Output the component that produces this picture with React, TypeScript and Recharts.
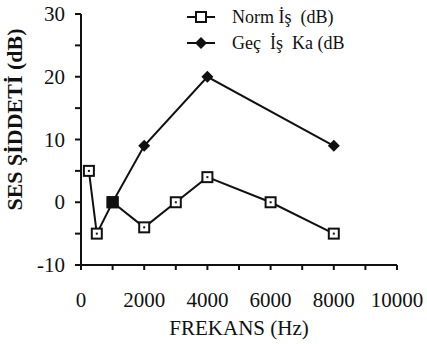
import React from "react";
import { LineChart, Line, XAxis, YAxis, Label } from "recharts";

// Frequencies (Hz) and levels (dB)
const normFreq: number[] = [250, 500, 1000, 2000, 3000, 4000, 6000, 8000];
const normLevel: number[] = [5, -5, 0, -4, 0, 4, 0, -5];
const gecFreq: number[] = [1000, 2000, 4000, 8000];
const gecLevel: number[] = [0, 9, 20, 9];

const xTicks: number[] = [0, 1000, 2000, 3000, 4000, 5000, 6000, 7000, 8000, 9000, 10000];
const yTicks: number[] = [-10, -5, 0, 5, 10, 15, 20, 25, 30];

const normData = normFreq.map((f, i) => ({ f, v: normLevel[i] }));
const gecData = gecFreq.map((f, i) => ({ f, v: gecLevel[i] }));

const font = "'Times New Roman', 'Liberation Serif', Times, serif";

const SquareDot = (props: any) => {
  const { cx, cy } = props;
  if (cx == null || cy == null) return null;
  return (
    <g>
      <rect x={cx - 5} y={cy - 5} width={10} height={10} fill="#fff" stroke="#111" strokeWidth={2} />
      <rect x={cx - 1} y={cy - 1} width={2} height={2} fill="#111" />
    </g>
  );
};

const DiamondDot = (props: any) => {
  const { cx, cy, index } = props;
  if (cx == null || cy == null) return null;
  if (index === 0) {
    return <rect x={cx - 6} y={cy - 6} width={12} height={12} fill="#111" />;
  }
  return <path d={`M${cx},${cy - 6} L${cx + 6},${cy} L${cx},${cy + 6} L${cx - 6},${cy} Z`} fill="#111" />;
};

const XTick = (props: any) => {
  const { x, y, payload } = props;
  if (payload.value % 2000 !== 0) return null;
  return (
    <text x={x} y={y + 35} textAnchor="middle" fill="#111" fontFamily={font} fontSize={21}>
      {payload.value}
    </text>
  );
};

const YTick = (props: any) => {
  const { x, y, payload } = props;
  if (payload.value % 10 !== 0) return null;
  return (
    <text x={x - 8} y={y + 7} textAnchor="end" fill="#111" fontFamily={font} fontSize={21}>
      {payload.value}
    </text>
  );
};

const App: React.FC = () => {
  return (
    <div style={{ position: "absolute", left: 0, top: 0, width: 427, height: 344, background: "#fff" }}>
      <LineChart width={427} height={344} margin={{ top: 14, right: 30, bottom: 6, left: 0 }}>
        <XAxis
          type="number"
          dataKey="f"
          domain={[0, 10000]}
          ticks={xTicks}
          interval={0}
          height={73}
          stroke="#111"
          strokeWidth={2}
          tickSize={5}
          tick={<XTick />}
          allowDuplicatedCategory={false}
        >
          <Label value="FREKANS (Hz)" position="insideBottom" offset={3} fontFamily={font} fontSize={21} fill="#111" />
        </XAxis>
        <YAxis
          type="number"
          dataKey="v"
          domain={[-10, 30]}
          ticks={yTicks}
          interval={0}
          width={81}
          stroke="#111"
          strokeWidth={2}
          tickSize={6}
          tick={<YTick />}
        >
          <Label
            value="SES ŞİDDETİ (dB)"
            angle={-90}
            position="insideLeft"
            offset={14}
            dy={-20}
            fontFamily={font}
            fontSize={22}
            fontWeight="bold"
            fill="#111"
            style={{ textAnchor: "middle" }}
          />
        </YAxis>
        <Line
          data={normData}
          dataKey="v"
          type="linear"
          stroke="#111"
          strokeWidth={2}
          dot={<SquareDot />}
          isAnimationActive={false}
        />
        <Line
          data={gecData}
          dataKey="v"
          type="linear"
          stroke="#111"
          strokeWidth={2}
          dot={<DiamondDot />}
          isAnimationActive={false}
        />
      </LineChart>
      {/* legend */}
      <div style={{ position: "absolute", left: 187, top: 4, fontFamily: font, fontSize: 18, color: "#111", lineHeight: "26px" }}>
        <div style={{ display: "flex", alignItems: "center" }}>
          <svg width={28} height={14}>
            <line x1={0} y1={7} x2={28} y2={7} stroke="#111" strokeWidth={2} />
            <rect x={9} y={2} width={10} height={10} fill="#fff" stroke="#111" strokeWidth={2} />
          </svg>
          <span style={{ marginLeft: 17, whiteSpace: "pre" }}>Norm İş  (dB)</span>
        </div>
        <div style={{ display: "flex", alignItems: "center" }}>
          <svg width={28} height={14}>
            <line x1={0} y1={7} x2={28} y2={7} stroke="#111" strokeWidth={2} />
            <path d="M14,1 L20,7 L14,13 L8,7 Z" fill="#111" />
          </svg>
          <span style={{ marginLeft: 17, whiteSpace: "pre" }}>Geç  İş  Ka (dB</span>
        </div>
      </div>
    </div>
  );
};

export default App;
